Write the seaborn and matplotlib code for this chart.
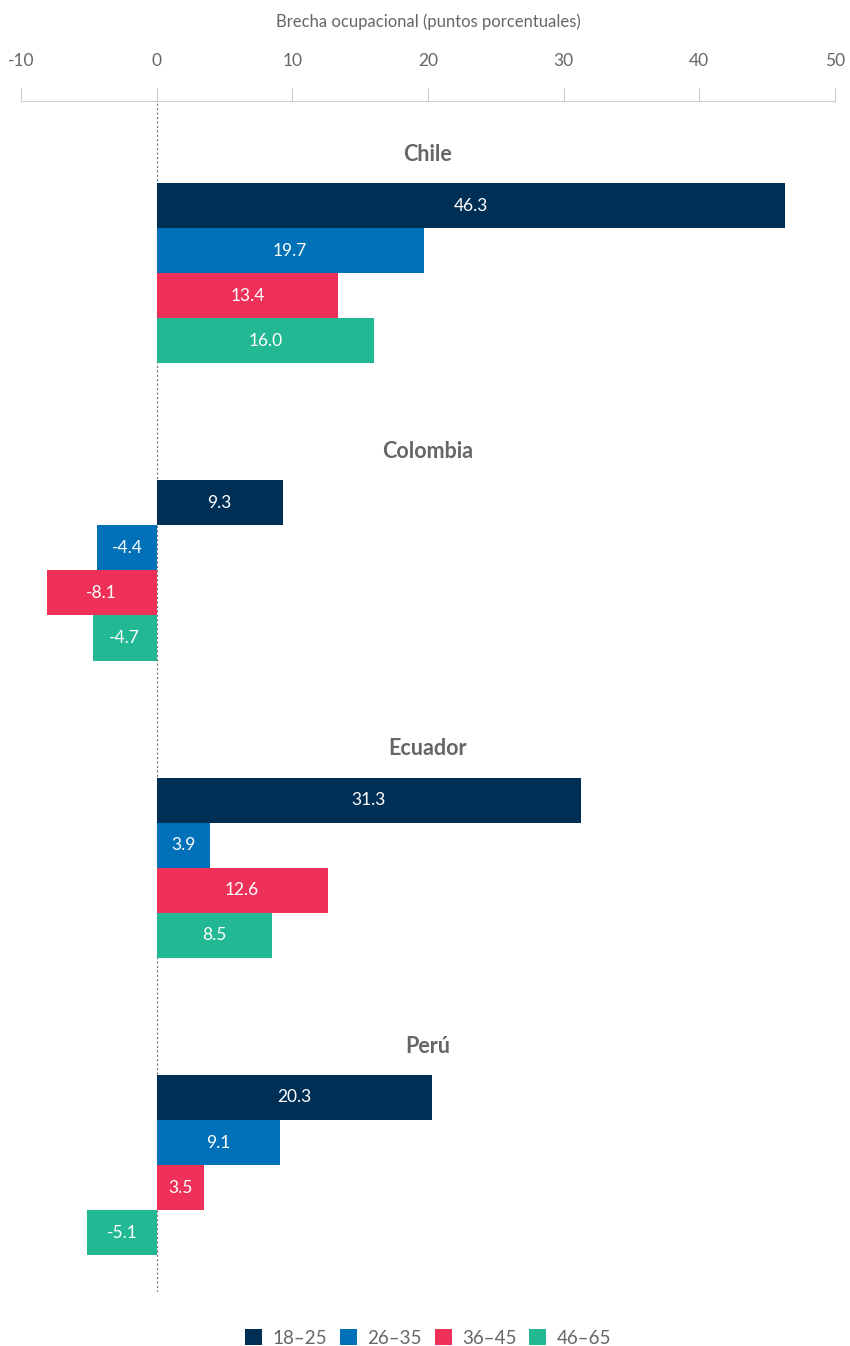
import pandas as pd
import matplotlib
matplotlib.use('Agg')
import matplotlib.pyplot as plt
import seaborn as sns

# data
countries = ['Chile', 'Colombia', 'Ecuador', 'Perú']
age_groups = ['18–25', '26–35', '36–45', '46–65']
chile = [46.3, 19.7, 13.4, 16.0]
colombia = [9.3, -4.4, -8.1, -4.7]
ecuador = [31.3, 3.9, 12.6, 8.5]
peru = [20.3, 9.1, 3.5, -5.1]
colors = ['#002f56', '#0070b8', '#ef3159', '#22b893']

rows = []
for country, vals in zip(countries, [chile, colombia, ecuador, peru]):
    for age, v in zip(age_groups, vals):
        rows.append({'country': country, 'age': age, 'gap': v})
df = pd.DataFrame(rows)

sns.set_theme(style='white')
plt.rcParams['font.family'] = ['Lato', 'DejaVu Sans']
plt.rcParams['axes.unicode_minus'] = False
grey = '#666666'

fig = plt.figure(figsize=(8.5, 13.46), dpi=100)
ax = fig.add_axes([21 / 850, 1 - 1292 / 1346, (835 - 21) / 850, (1292 - 101) / 1346])

sns.barplot(data=df, x='gap', y='country', hue='age', orient='h',
            palette=colors, saturation=1, width=0.606, linewidth=0,
            errorbar=None, ax=ax)

for cont in ax.containers:
    ax.bar_label(cont, fmt='%.1f', label_type='center', color='white', fontsize=12.5)

ax.set_xlim(-10, 50)
ax.set_ylim(3.427, -0.579)
ax.axvline(0, color='#777777', linestyle=(0, (2, 2)), linewidth=0.8, zorder=0)

for i, c in enumerate(countries):
    ax.text(20, i - 0.40, c, ha='center', va='center', fontsize=15.5,
            fontweight='bold', color=grey)

ax.xaxis.tick_top()
ax.xaxis.set_label_position('top')
ax.set_xticks(range(-10, 51, 10))
ax.tick_params(axis='x', direction='out', length=9.4, width=0.8, color='#cccccc',
               pad=14, labelsize=12.5, labelcolor=grey, top=True, bottom=False)
ax.set_xlabel('Brecha ocupacional (puntos porcentuales)', fontsize=12, color=grey, labelpad=18)
ax.set_ylabel('')
ax.set_yticks([])
for s in ['right', 'left', 'bottom']:
    ax.spines[s].set_visible(False)
ax.spines['top'].set_color('#cccccc')
ax.spines['top'].set_linewidth(0.8)

sns.move_legend(ax, 'center', bbox_to_anchor=(0.5, -0.0386), ncol=4, frameon=False,
                title=None, fontsize=13.5, handlelength=0.9, handleheight=0.9,
                handletextpad=0.55, columnspacing=0.7, labelcolor=grey)

fig.savefig('out.png', dpi=100)
